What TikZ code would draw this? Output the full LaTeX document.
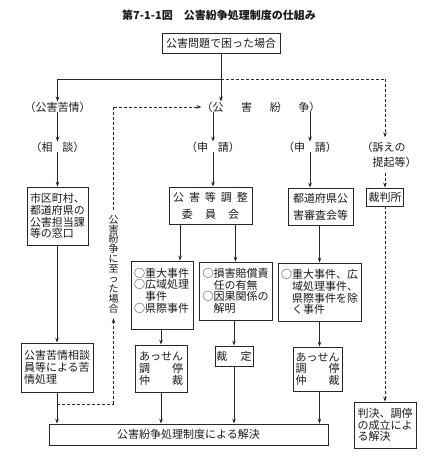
\documentclass[tikz,border=0pt]{standalone}
\usepackage{fontspec}
\setmainfont{Noto Sans CJK JP}
\usetikzlibrary{arrows.meta}
\begin{document}
\begin{tikzpicture}[x=1pt,y=-1pt,
  every node/.style={font=\fontsize{11}{11.7}\selectfont, text=black!90, inner sep=0pt},
  box/.style={draw=black!85, line width=0.8pt, inner sep=0pt, align=left},
  lbl/.style={align=left},
  ln/.style={draw=black!85, line width=0.8pt},
  arr/.style={ln, -{Stealth[length=5pt,width=3.6pt]}},
  dln/.style={ln, dash pattern=on 3pt off 2pt},
  darr/.style={arr, dash pattern=on 3pt off 2pt}]
\useasboundingbox (0,0) rectangle (424,458);

% title
\node[font=\fontsize{11}{13}\selectfont\bfseries] (title) at (219,15) {第7-1-1図\hspace{1em}公害紛争処理制度の仕組み};

% top box
\node[box, minimum width=118pt, minimum height=20pt, align=center] (top) at (221,43) {公害問題で困った場合};

% labels
\node[lbl] (kujo) at (57.5,107) {（公害苦情）};
\node[lbl] (fun) at (261,107) {（公\hspace{1.6em}害\hspace{1.6em}紛\hspace{1.6em}争）};
\node[lbl] (soudan) at (57.5,147) {（相\hspace{0.9em}談）};
\node[lbl] (shin1) at (213,147) {（申\hspace{0.9em}請）};
\node[lbl] (shin2) at (310,147) {（申\hspace{0.9em}請）};
\node[lbl, font=\fontsize{11}{14.5}\selectfont, inner ysep=5pt] (uttae) at (389,155) {（訴えの\\　提起等）};

% boxes
\node[box, minimum width=61pt, minimum height=58pt] (b1) at (57.5,216) {市区町村、\\都道府県の\\公害担当課\\等の窓口};
\node[box, minimum width=72pt, minimum height=49pt] (b2) at (57,367.5) {公害苦情相談\\員等による苦\\情処理};
\node[box, minimum width=83pt, minimum height=37pt, align=center, font=\fontsize{11}{17}\selectfont] (b3) at (210.5,205.5)
  {公\hspace{0.45em}害\hspace{0.45em}等\hspace{0.45em}調\hspace{0.45em}整\\委\hspace{1.1em}員\hspace{1.1em}会};
\node[box, minimum width=65pt, minimum height=37pt, font=\fontsize{11}{17}\selectfont] (b4) at (320.5,206.5) {都道府県公\\害審査会等};
\node[box, minimum width=37pt, minimum height=18pt, align=center] (saiban) at (385,197) {裁判所};

\node[box, minimum width=62pt, minimum height=68pt] (b5) at (162,295)
  {\parbox[c][54pt][t]{56pt}{\fontsize{11}{11.7}\selectfont ○重大事件\\○広域処理\\　事件\\○県際事件}};
\node[box, minimum width=73pt, minimum height=58pt] (b6) at (235.5,291) {○損害賠償責\\　任の有無\\○因果関係の\\　解明};
\node[box, minimum width=83pt, minimum height=58pt] (b7) at (319.5,292) {○重大事件、広\\　域処理事件、\\　県際事件を除\\　く事件};

\node[box, minimum width=52pt, minimum height=47pt] (b8) at (161,368.5) {あっせん\\調　　停\\仲　　裁};
\node[box, minimum width=38pt, minimum height=20pt, align=center] (b9) at (234,356) {裁\hspace{1.2em}定};
\node[box, minimum width=49pt, minimum height=44pt] (b10) at (317.5,369) {あっせん\\調　　停\\仲　　裁};

\node[box, minimum width=279pt, minimum height=21pt, align=center] (res) at (188.5,434.5) {公害紛争処理制度による解決};
\node[box, minimum width=62pt, minimum height=46pt] (hk) at (385,425) {判決、調停\\の成立によ\\る解決};

% vertical text
\node[align=center, font=\fontsize{10}{9.9}\selectfont, inner ysep=5pt] (vt) at (113.5,264)
  {公\\害\\紛\\争\\に\\至\\っ\\た\\場\\合};

% coordinates
\coordinate (jM) at (221,79);
\coordinate (jL) at (57.5,79);
\coordinate (jR) at (385,79);
\coordinate (d1) at (57,404);
\coordinate (d2) at (113.5,404);
\coordinate (d3) at (113.5,107);

% connectors
\draw[arr] (top.south) -- (top.south |- fun.north);
\draw[ln] (jM) -- (jL);
\draw[arr] (jL) -- (kujo.north);
\draw[dln] (jM) -- (jR);
\draw[darr] (jR) -- (jR |- uttae.north);
\draw[darr] (uttae.south -| saiban.north) -- (saiban.north);
\draw[darr] (saiban.south) -- (saiban.south |- hk.north);

\draw[arr] (kujo.south) -- (soudan.north);
\draw[arr] (soudan.south) -- (b1.north);
\draw[arr] (b1.south -| b2.north) -- (b2.north);
\draw[arr] (b2.south) -- (b2.south |- res.north);

\draw[arr] (fun.south -| shin1.north) -- (shin1.north);
\draw[arr] (shin1.south) -- (shin1.south |- b3.north);
\draw[arr] (fun.south -| shin2.north) -- (shin2.north);
\draw[arr] (shin2.south) -- (shin2.south |- b4.north);

\draw[arr] (b3.south -| 180,0) -- (b5.north -| 180,0);
\draw[arr] (b3.south -| b6.north) -- (b6.north);
\draw[arr] (b4.south -| b7.north) -- (b7.north);
\draw[arr] (b5.south -| b8.north) -- (b8.north);
\draw[arr] (b6.south -| b9.north) -- (b9.north);
\draw[arr] (b7.south) -- (b7.south |- b10.north);
\draw[arr] (b8.south) -- (b8.south |- res.north);
\draw[arr] (b9.south) -- (b9.south |- res.north);
\draw[arr] (b7.south |- b10.south) -- (b7.south |- res.north);

% dashed route
\draw[dln] (d1) -- (d2);
\draw[darr] (d2) -- (vt.south);
\draw[dln] (vt.north) -- (d3);
\draw[darr] (d3) -- (fun.west);
\end{tikzpicture}
\end{document}
